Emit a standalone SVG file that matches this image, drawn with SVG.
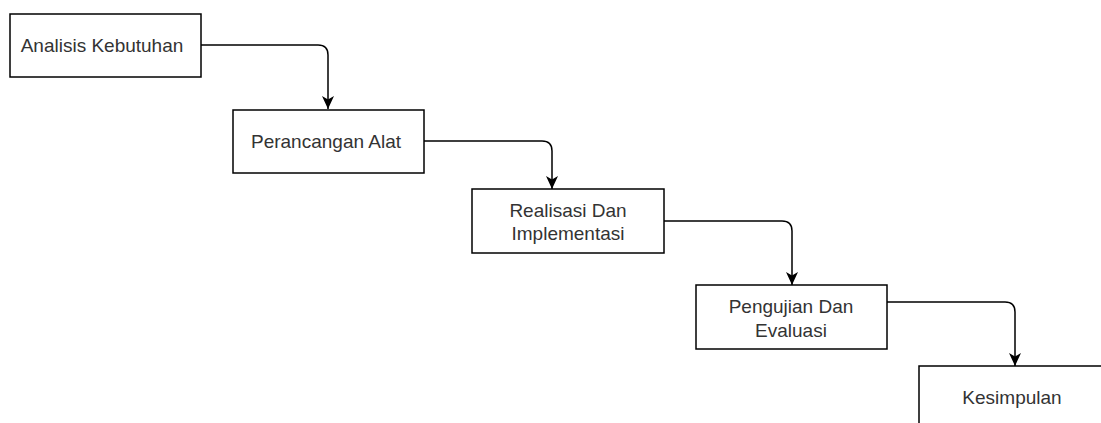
<svg xmlns="http://www.w3.org/2000/svg" width="1101" height="423" viewBox="0 0 1101 423">
<style>
.box{fill:#fff;stroke:#000;stroke-width:1.5}
.lbl{font-family:"Liberation Sans",Arial,sans-serif;font-size:19px;fill:#333;text-anchor:middle}
.edge{fill:none;stroke:#000;stroke-width:1.5}
</style>
<defs>
<marker id="arr" markerUnits="userSpaceOnUse" markerWidth="14" markerHeight="14" viewBox="0 0 14 12" refX="13" refY="6" orient="auto">
<path d="M0,0 L13,6 L0,12 L3.5,6 Z" fill="#000"/>
</marker>
</defs>
<rect width="1101" height="423" fill="#fff"/>
<g id="connectors">
<path class="edge" d="M201,45 H318 Q328,45 328,55 V109" marker-end="url(#arr)"/>
<path class="edge" d="M424,141 H542 Q552,141 552,151 V189" marker-end="url(#arr)"/>
<path class="edge" d="M664,221 H782 Q792,221 792,231 V285" marker-end="url(#arr)"/>
<path class="edge" d="M887,302 H1005 Q1015,302 1015,312 V366" marker-end="url(#arr)"/>
</g>
<g id="n1">
<rect class="box" x="10" y="14" width="191" height="63"/>
<text class="lbl" x="102" y="52">Analisis Kebutuhan</text>
</g>
<g id="n2">
<rect class="box" x="233" y="110" width="191" height="63"/>
<text class="lbl" x="326" y="148">Perancangan Alat</text>
</g>
<g id="n3">
<rect class="box" x="472" y="189" width="192" height="64"/>
<text class="lbl" x="568" y="217">Realisasi Dan</text>
<text class="lbl" x="568" y="240">Implementasi</text>
</g>
<g id="n4">
<rect class="box" x="696" y="285" width="191" height="64"/>
<text class="lbl" x="791" y="313">Pengujian Dan</text>
<text class="lbl" x="791" y="337">Evaluasi</text>
</g>
<g id="n5">
<rect class="box" x="919" y="366" width="192" height="64"/>
<text class="lbl" x="1012" y="404">Kesimpulan</text>
</g>
</svg>
